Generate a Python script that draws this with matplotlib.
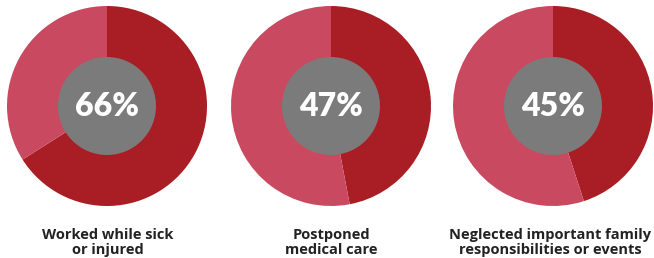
import matplotlib
matplotlib.use("Agg")
import matplotlib.pyplot as plt
from matplotlib.patches import Circle

# Data
labels = ["Worked while sick\nor injured", "Postponed\nmedical care",
          "Neglected important family\nresponsibilities or events"]
values = [66, 47, 45]

DARK = "#a91d24"
LIGHT = "#c94a60"
GREY = "#7b7b7b"
TEXT = "#222222"

W, H = 654, 258
fig = plt.figure(figsize=(W / 100, H / 100), dpi=100)
ax = fig.add_axes([0, 0, 1, 1])

centers_x = [107, 331, 553]
label_x = [108, 331, 550]
cy = H - 106
R = 100
r_in = 49

for cx, lx, v, lab in zip(centers_x, label_x, values, labels):
    ax.pie([v, 100 - v], colors=[DARK, LIGHT], startangle=90, counterclock=False,
           center=(cx, cy), radius=R, frame=True,
           wedgeprops=dict(linewidth=0))
    ax.add_patch(Circle((cx, cy), r_in, facecolor=GREY, edgecolor="none", zorder=3))
    ax.text(cx, cy - 1, f"{v}%", ha="center", va="center", color="white",
            fontsize=23, fontweight="heavy", family="Lato", zorder=4)
    ax.text(lx, H - 242.5, lab, ha="center", va="center", color=TEXT,
            fontsize=10.5, fontweight="bold", family="Open Sans", linespacing=1.05)

ax.set_xlim(0, W)
ax.set_ylim(0, H)
ax.set_aspect("equal")
ax.axis("off")

fig.savefig("out.png", dpi=100, facecolor="white")
